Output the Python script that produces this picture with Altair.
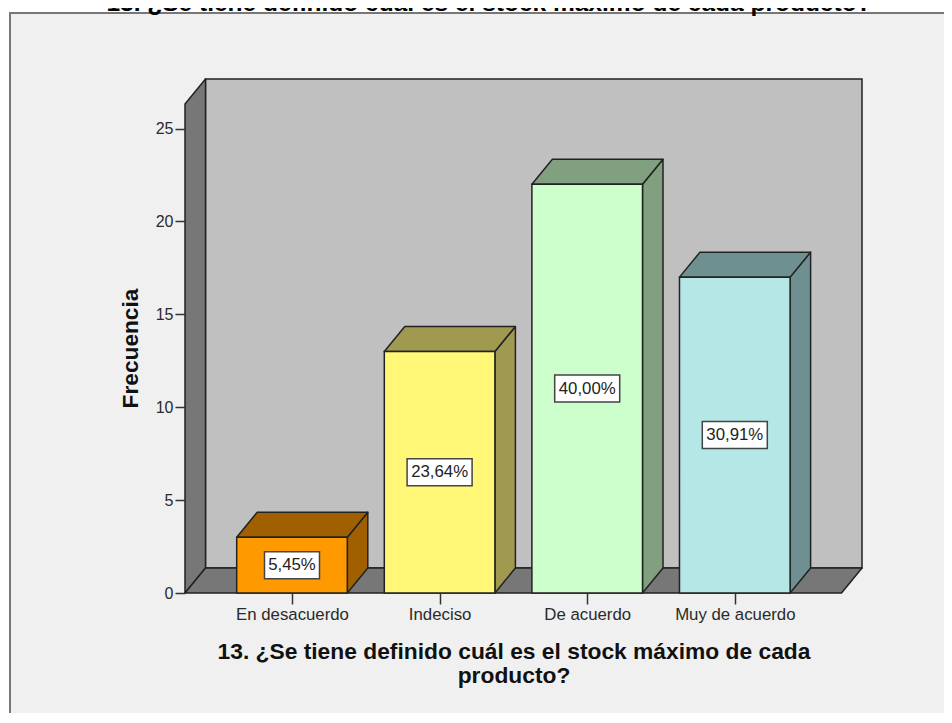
import altair as alt
import pandas as pd

categories = ["En desacuerdo", "Indeciso", "De acuerdo", "Muy de acuerdo"]
frequencies = [3, 13, 22, 17]
percent_labels = ["5,45%", "23,64%", "40,00%", "30,91%"]
front_colors = ["#ff9900", "#fff775", "#ccffcc", "#b6e7e7"]
shade_colors = ["#a06000", "#a09a50", "#80a080", "#6f9090"]
TITLE = "13. ¿Se tiene definido cuál es el stock máximo de cada producto?"

PX_X = 147.6       # pixels per category step
PX_Y = 18.58       # pixels per frequency unit
W, H = 677, 514
X0 = -107 / PX_X
X1 = X0 + W / PX_X
Y1 = H / PX_Y
DX = 20.5 / PX_X   # depth of the 3-D box
DY = 25.0 / PX_Y
HALF = 55.3 / PX_X
FONT = "Liberation Sans"

x_scale = alt.Scale(domain=[X0, X1], nice=False, zero=False)
y_scale = alt.Scale(domain=[0, Y1], nice=False, zero=False)

x_axis = alt.Axis(values=[0, 1, 2, 3], grid=False, domain=False, tickSize=11, tickColor="#333333", tickWidth=1.5, zindex=1,
                  labelExpr=f"{categories}[datum.value]", labelFont=FONT, labelFontSize=16.8,
                  labelColor="#2a2a2a", labelPadding=2, labelFlush=False, labelOverlap=False,
                  title=["13. ¿Se tiene definido cuál es el stock máximo de cada", "producto?"],
                  titleFont=FONT, titleFontSize=22.8, titleFontWeight="bold", titleColor="#111111",
                  titleLineHeight=24, titleX=328.5, titleY=65, titleAlign="center", titleBaseline="alphabetic")
y_axis = alt.Axis(values=[0, 5, 10, 15, 20, 25], grid=False, domain=False, tickSize=10, tickColor="#333333", tickWidth=1.5, zindex=1,
                  labelFont=FONT, labelFontSize=16, labelColor="#2a2a2a", labelPadding=2,
                  title="Frecuencia", titleFont=FONT, titleFontSize=22.7, titleFontWeight="bold",
                  titleColor="#111111", titleX=-48, titleY=269, titleAlign="center", titleAngle=270,
                  titleBaseline="alphabetic")

faces = []
def face(fid, color, pts):
    for px, lo, hi in pts:
        faces.append(dict(fid=fid, c=color, x=px, y=lo, y2=hi))

# left wall and floor of the box
face("wall", "#777777", [(X0, 0, Y1 - DY), (X0 + DX, DY, Y1)])
face("floor", "#777777", [(X0, 0, 0), (X0 + DX, DY, 0), (X1 - DX, DY, 0), (X1, DY, DY)])

bars = []
for i, (cat, f, lab, fc, sc) in enumerate(zip(categories, frequencies, percent_labels, front_colors, shade_colors)):
    xl, xr = i - HALF, i + HALF
    face(f"side{i}", sc, [(xr, 0, f), (xr + DX, DY, f + DY)])
    face(f"top{i}", sc, [(xl, f, f), (xl + DX, f, f + DY), (xr, f, f + DY), (xr + DX, f + DY, f + DY)])
    bw = (27.5 if len(lab) == 5 else 32.5) / PX_X
    bh = 13.5 / PX_Y
    bars.append(dict(cat=cat, i=i, xl=xl, xr=xr, f=f, c=fc, lab=lab, bxl=i - bw, bxr=i + bw,
                     byl=f / 2 - bh, byh=f / 2 + bh, mid=f / 2))

faces_df = pd.DataFrame(faces)
bars_df = pd.DataFrame(bars)
base_wall = pd.DataFrame([dict(x=X0 + DX, x2=X1, y=DY, y2=Y1)])

frame = alt.Chart(pd.DataFrame([{"k": 1}])).mark_rect(
    fill="#f0f0f0", stroke="#777777", strokeWidth=2
).encode(x=alt.value(-175), x2=alt.value(900), y=alt.value(-66), y2=alt.value(800))

top_title = alt.Chart(pd.DataFrame([{"t": TITLE}])).mark_text(
    font=FONT, fontSize=24.5, fontWeight="bold", color="#000000", align="center", baseline="alphabetic"
).encode(x=alt.value(304), y=alt.value(-68), text="t:N")

back = alt.Chart(base_wall).mark_rect(fill="#c0c0c0", stroke="#222222", strokeWidth=1.5).encode(
    x=alt.X("x:Q", scale=x_scale, axis=x_axis),
    x2="x2:Q",
    y=alt.Y("y:Q", scale=y_scale, axis=y_axis),
    y2="y2:Q",
)

def shapes(df):
    return alt.Chart(df).mark_area(stroke="#222222", strokeWidth=1.5, strokeJoin="round").encode(
        x=alt.X("x:Q", scale=x_scale, axis=x_axis),
        y=alt.Y("y:Q", scale=y_scale, axis=y_axis),
        y2="y2:Q",
        fill=alt.Fill("c:N", scale=None),
        detail="fid:N",
    )

box_shell = shapes(faces_df[faces_df.fid.isin(["wall", "floor"])])
bar_sides = shapes(faces_df[~faces_df.fid.isin(["wall", "floor"])])

fronts = alt.Chart(bars_df).mark_rect(stroke="#222222", strokeWidth=1.5).encode(
    x=alt.X("xl:Q", scale=x_scale, axis=x_axis), x2="xr:Q",
    y=alt.Y("f:Q", scale=y_scale, axis=y_axis), y2=alt.Y2(datum=0),
    fill=alt.Fill("c:N", scale=None),
)
boxes = alt.Chart(bars_df).mark_rect(fill="#ffffff", stroke="#444444", strokeWidth=1.5).encode(
    x=alt.X("bxl:Q", scale=x_scale, axis=x_axis), x2="bxr:Q",
    y=alt.Y("byl:Q", scale=y_scale, axis=y_axis), y2="byh:Q",
)
labels = alt.Chart(bars_df).mark_text(font=FONT, fontSize=16.8, color="#222222", baseline="middle").encode(
    x=alt.X("i:Q", scale=x_scale, axis=x_axis),
    y=alt.Y("mid:Q", scale=y_scale, axis=y_axis),
    text="lab:N",
)

chart = alt.layer(frame, top_title, back, box_shell, bar_sides, fronts, boxes, labels).properties(
    width=W, height=H, background="#ffffff",
    padding={"left": 177, "top": 71, "right": 82, "bottom": 120},
    autosize=alt.AutoSizeParams(type="none"),
).configure_view(stroke=None)

chart.save("out.html", embed_options={"renderer": "svg", "actions": False})
